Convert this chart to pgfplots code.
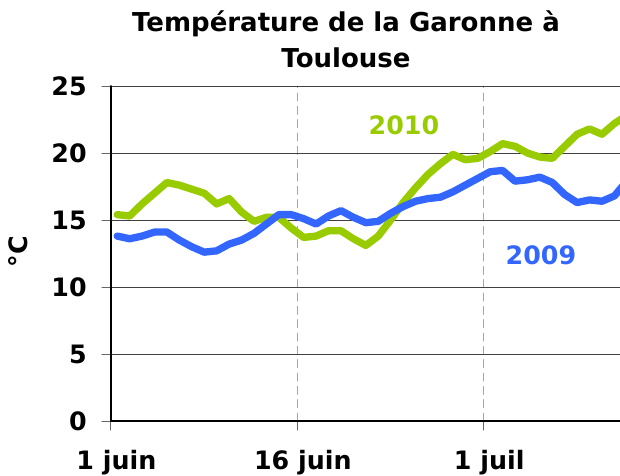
\documentclass[border=0pt]{standalone}
\usepackage{fontspec}
\setmainfont{DejaVu Sans}
\usepackage{pgfplots}
\pgfplotsset{compat=1.18}
\definecolor{cgreen}{HTML}{99CC00}
\definecolor{cblue}{HTML}{3366FF}
\begin{document}
\begin{tikzpicture}
\begin{axis}[
  at={(0pt,0pt)}, anchor=south west,
  scale only axis, width=381.75pt, height=251.25pt,
  xmin=0, xmax=40.95, ymin=0, ymax=25,
  axis x line*=bottom, axis y line*=left,
  axis line style={-, black, line width=1.5pt},
  xtick={0,15,30}, xticklabels={1 juin,16 juin,1 juil},
  ytick={0,5,10,15,20,25},
  tick align=outside, major tick length=6.75pt,
  tick style={color=black!60, line width=0.75pt},
  xmajorgrids, ymajorgrids,
  x grid style={black!35, dash pattern=on 6pt off 4pt, line width=0.75pt},
  y grid style={black!75, line width=0.75pt},
  /pgf/number format/assume math mode=true,
  ticklabel style={font=\bfseries\fontsize{19}{19}\selectfont, inner sep=0pt},
  yticklabel style={anchor=east, xshift=-11.25pt},
  xticklabel style={anchor=base, yshift=-29.5pt, xshift=4pt},
  ylabel={°C},
  every axis y label/.style={at={(axis description cs:-0.1827,0.5045)}, rotate=90, anchor=center, font=\bfseries\fontsize{19}{19}\selectfont},
  line join=round, line cap=round,
]
\addplot[cgreen, line width=5.5pt] coordinates {
(0.5,15.4) (1.5,15.3) (2.5,16.2) (3.5,17.0) (4.5,17.8) (5.5,17.6) (6.5,17.3) (7.5,17.0)
(8.5,16.2) (9.5,16.6) (10.5,15.6) (11.5,14.9) (12.5,15.2) (13.5,15.2) (14.5,14.4) (15.5,13.7)
(16.5,13.8) (17.5,14.2) (18.5,14.2) (19.5,13.6) (20.5,13.1) (21.5,13.8) (22.5,15.0) (23.5,16.3)
(24.5,17.4) (25.5,18.4) (26.5,19.2) (27.5,19.9) (28.5,19.5) (29.5,19.6) (30.5,20.1) (31.5,20.7)
(32.5,20.5) (33.5,20.0) (34.5,19.7) (35.5,19.6) (36.5,20.5) (37.5,21.4) (38.5,21.8) (39.5,21.4)
(40.5,22.2) (41.5,22.8)
};
\addplot[cblue, line width=5.5pt] coordinates {
(0.5,13.8) (1.5,13.6) (2.5,13.8) (3.5,14.1) (4.5,14.1) (5.5,13.5) (6.5,13.0) (7.5,12.6)
(8.5,12.7) (9.5,13.2) (10.5,13.5) (11.5,14.0) (12.5,14.7) (13.5,15.4) (14.5,15.4) (15.5,15.1)
(16.5,14.7) (17.5,15.3) (18.5,15.7) (19.5,15.2) (20.5,14.8) (21.5,14.9) (22.5,15.5) (23.5,16.0)
(24.5,16.4) (25.5,16.6) (26.5,16.7) (27.5,17.1) (28.5,17.6) (29.5,18.1) (30.5,18.6) (31.5,18.7)
(32.5,17.9) (33.5,18.0) (34.5,18.2) (35.5,17.8) (36.5,16.9) (37.5,16.3) (38.5,16.5) (39.5,16.4)
(40.5,16.8) (41.5,17.9)
};
\node[cgreen, font=\bfseries\fontsize{19}{19}\selectfont] at (axis cs:23.57,22.09) {2010};
\node[cblue, font=\bfseries\fontsize{19}{19}\selectfont] at (axis cs:34.59,12.39) {2009};
\end{axis}
\node[anchor=base, font=\bfseries\fontsize{19.5}{19.5}\selectfont, inner sep=0pt] at (176.25pt,291.75pt) {Température de la Garonne à};
\node[anchor=base, font=\bfseries\fontsize{19.5}{19.5}\selectfont, inner sep=0pt] at (176.25pt,264.75pt) {Toulouse};
\pgfresetboundingbox
\path[use as bounding box] (-83.25pt,-40.5pt) rectangle (381.75pt,315.75pt);
\end{tikzpicture}
\end{document}
